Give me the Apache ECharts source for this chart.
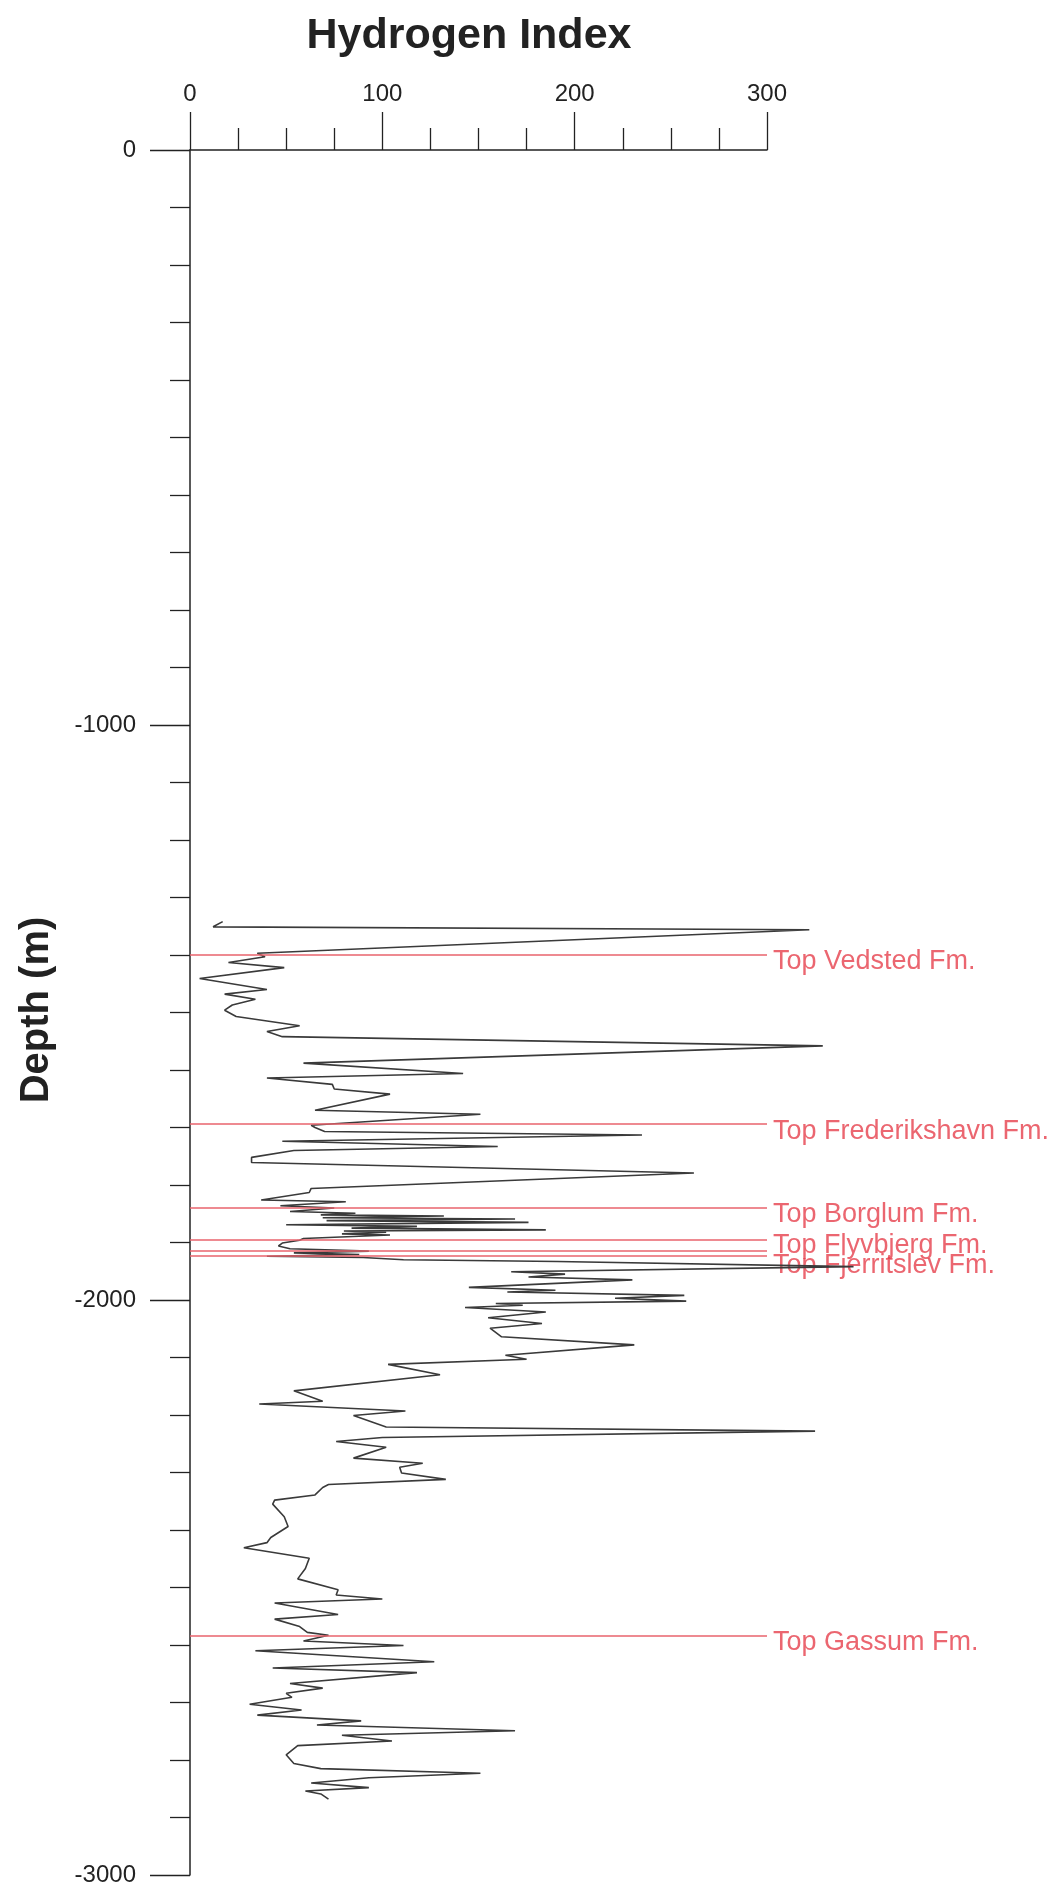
<!DOCTYPE html>
<html>
<head>
<meta charset="utf-8">
<title>Hydrogen Index</title>
<script src="https://cdn.jsdelivr.net/npm/echarts@6/dist/echarts.min.js"></script>
<style>
  html, body { margin: 0; padding: 0; background: #ffffff; }
  #chart { width: 1056px; height: 1891px; }
</style>
</head>
<body>
<div id="chart"></div>
<script>
// Sample depths (m below surface) and Hydrogen Index values, in drilling order
const depthM = [
  1342, 1351, 1356, 1397, 1403, 1413, 1422, 1441, 1460, 1468,
  1477, 1487, 1496, 1507, 1523, 1533, 1542, 1558, 1588, 1606,
  1614, 1625, 1633, 1642, 1670, 1677, 1696, 1700, 1707, 1713,
  1724, 1733, 1740, 1752, 1761, 1779, 1806, 1813, 1826, 1829,
  1836, 1840, 1846, 1849, 1852, 1854, 1857, 1859, 1862, 1865,
  1869, 1872, 1875, 1878, 1880, 1882, 1885, 1887, 1893, 1896,
  1901, 1906, 1911, 1915, 1918, 1921, 1924, 1926, 1930, 1933,
  1942, 1951, 1955, 1960, 1965, 1978, 1983, 1986, 1992, 1997,
  2002, 2006, 2009, 2013, 2021, 2031, 2041, 2049, 2064, 2078,
  2096, 2103, 2112, 2130, 2158, 2176, 2181, 2193, 2201, 2221,
  2228, 2239, 2246, 2256, 2275, 2284, 2291, 2301, 2312, 2321,
  2326, 2339, 2348, 2355, 2377, 2394, 2413, 2422, 2431, 2449,
  2467, 2485, 2504, 2513, 2520, 2527, 2547, 2555, 2568, 2578,
  2583, 2593, 2601, 2610, 2629, 2640, 2648, 2667, 2675, 2684,
  2691, 2703, 2713, 2722, 2732, 2739, 2749, 2757, 2767, 2775,
  2791, 2806, 2815, 2823, 2831, 2840, 2848, 2854, 2859, 2868
];
const hydrogenIndex = [
  17, 12, 322, 35, 39, 20, 49, 5, 40, 18,
  34, 22, 18, 24, 57, 40, 48, 329, 59, 142,
  40, 74, 75, 104, 65, 151, 63, 65, 70, 235,
  48, 160, 54, 32, 32, 262, 63, 62, 37, 81,
  47, 75, 52, 86, 68, 132, 69, 169, 71, 176,
  50, 118, 84, 185, 80, 102, 79, 104, 59, 57,
  48, 46, 52, 93, 54, 88, 40, 90, 111, 191,
  345, 167, 195, 176, 230, 145, 190, 165, 257, 221,
  258, 159, 173, 143, 185, 155, 183, 156, 162, 231,
  164, 175, 103, 130, 54, 69, 36, 112, 85, 102,
  325, 100, 76, 102, 85, 121, 109, 110, 133, 72,
  69, 65, 44, 43, 49, 51, 42, 40, 28, 62,
  60, 56, 77, 76, 100, 44, 77, 44, 57, 61,
  72, 59, 111, 34, 127, 43, 118, 52, 69, 50,
  53, 31, 58, 35, 89, 66, 169, 79, 105, 56,
  50, 54, 68, 151, 93, 63, 93, 60, 68, 72
];

// Formation tops (m) and their labels
const topDepths = [1400, 1694, 1840, 1896, 1914, 1923, 2584];
const topNames = [
  'Top Vedsted Fm.',
  'Top Frederikshavn Fm.',
  'Top Borglum Fm.',
  'Top Flyvbjerg Fm.',
  '',
  'Top Fjerritslev Fm.',
  'Top Gassum Fm.'
];
// Extra downward nudge (px) so labels sitting on close tops stay legible
const topLabelDrop = [7, 7, 7, 5, 7, 10, 7];

// Axis ranges: the drawn scale stops at 300, the curve's own scale runs on past it
const hiRange = [0, 300];
const curveHiRange = [0, 360];
const depthRange = [-3000, 0];

const FONT = '"Liberation Sans", Arial, Helvetica, sans-serif';
const INK = '#222222';
const TOP_LINE = '#e8636c';
const TOP_TEXT = '#e6404c';

const PLOT_LEFT = 190, PLOT_TOP = 150, PLOT_W = 577, PLOT_H = 1725;

const curve = depthM.map((d, i) => [hydrogenIndex[i], -d]);
const topMarks = topDepths.map((d, i) => ({
  name: topNames[i],
  value: [hiRange[1], -d],
  label: { offset: [0, topLabelDrop[i]] }
}));

const chart = echarts.init(document.getElementById('chart'), null, { renderer: 'canvas' });

const hiddenAxis = {
  show: false,
  axisLine: { show: false }, axisTick: { show: false },
  axisLabel: { show: false }, splitLine: { show: false }
};

chart.setOption({
  animation: false,
  backgroundColor: '#ffffff',
  grid: [
    { left: PLOT_LEFT, top: PLOT_TOP, width: PLOT_W, height: PLOT_H },
    { left: PLOT_LEFT, top: PLOT_TOP, width: PLOT_W * (curveHiRange[1] / hiRange[1]), height: PLOT_H }
  ],
  xAxis: [
    {
      type: 'value',
      gridIndex: 0,
      position: 'top',
      min: hiRange[0],
      max: hiRange[1],
      interval: 100,
      axisLine: { show: true, onZero: false, lineStyle: { color: INK, width: 1.5 } },
      axisTick: { show: true, length: 38, lineStyle: { color: INK, width: 1.3 } },
      minorTick: { show: true, splitNumber: 4, length: 22, lineStyle: { color: INK, width: 1.3 } },
      splitLine: { show: false },
      minorSplitLine: { show: false },
      axisLabel: { margin: 44, color: INK, fontSize: 24, fontFamily: FONT, formatter: v => String(v) }
    },
    Object.assign({ type: 'value', gridIndex: 1, min: curveHiRange[0], max: curveHiRange[1] }, hiddenAxis)
  ],
  yAxis: [
    {
      type: 'value',
      gridIndex: 0,
      min: depthRange[0],
      max: depthRange[1],
      interval: 1000,
      axisLine: { show: true, onZero: false, lineStyle: { color: INK, width: 1.5 } },
      axisTick: { show: true, length: 40, lineStyle: { color: INK, width: 1.3 } },
      minorTick: { show: true, splitNumber: 10, length: 20, lineStyle: { color: INK, width: 1.3 } },
      splitLine: { show: false },
      minorSplitLine: { show: false },
      axisLabel: { margin: 54, color: INK, fontSize: 24, fontFamily: FONT, formatter: v => String(v) }
    },
    Object.assign({ type: 'value', gridIndex: 1, min: depthRange[0], max: depthRange[1] }, hiddenAxis)
  ],
  graphic: [
    {
      type: 'text',
      x: 469, y: 36,
      style: {
        text: 'Hydrogen Index',
        font: 'bold 43px ' + FONT,
        fill: INK,
        textAlign: 'center',
        textVerticalAlign: 'middle'
      }
    },
    {
      type: 'text',
      x: 37, y: 1010,
      rotation: Math.PI / 2,
      style: {
        text: 'Depth (m)',
        font: 'bold 40px ' + FONT,
        fill: INK,
        textAlign: 'center',
        textVerticalAlign: 'middle'
      }
    }
  ],
  series: [
    {
      name: 'Formation tops',
      type: 'scatter',
      xAxisIndex: 0,
      yAxisIndex: 0,
      z: 1,
      symbolSize: 0,
      silent: true,
      data: topMarks,
      label: {
        show: true,
        position: 'right',
        distance: 6,
        formatter: p => p.name,
        color: TOP_TEXT,
        fontSize: 27,
        fontFamily: FONT
      },
      markLine: {
        silent: true,
        symbol: ['none', 'none'],
        label: { show: false },
        lineStyle: { color: TOP_LINE, width: 1.6, type: 'solid' },
        data: topDepths.map(d => [{ coord: [hiRange[0], -d] }, { coord: [hiRange[1], -d] }])
      }
    },
    {
      name: 'Hydrogen Index',
      type: 'line',
      xAxisIndex: 1,
      yAxisIndex: 1,
      z: 3,
      showSymbol: false,
      symbol: 'none',
      silent: true,
      data: curve,
      lineStyle: { color: '#3a3a3a', width: 1.6 }
    }
  ]
});
</script>
</body>
</html>
